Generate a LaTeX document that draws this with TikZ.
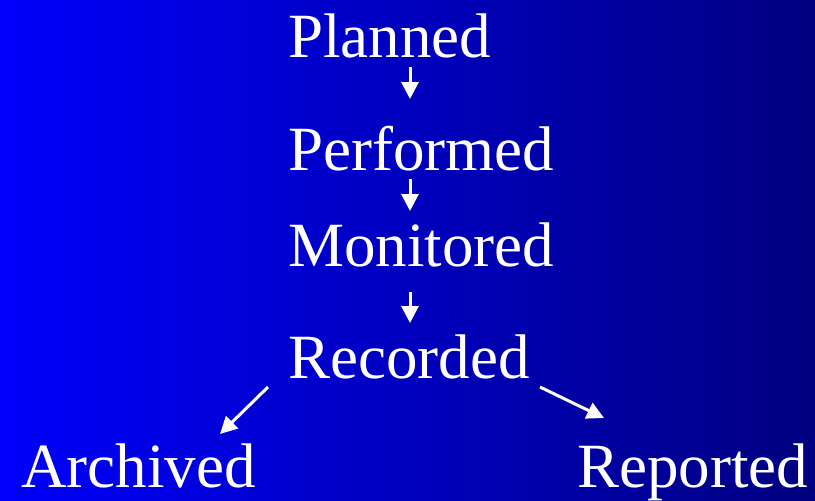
\documentclass[tikz,border=0pt]{standalone}
\usepackage{fontspec}
\setmainfont{Liberation Serif}
\usetikzlibrary{arrows.meta}
\definecolor{bgleft}{RGB}{0,0,252}
\definecolor{bgright}{RGB}{0,0,128}
\tikzset{
  word/.style={anchor=base west, inner sep=0pt, text=white, font=\fontsize{63}{75}\selectfont},
  flow/.style={draw=white, line width=3pt, -{Triangle[length=17pt,width=17pt]}},
}
\begin{document}
\begin{tikzpicture}[x=1pt,y=-1pt]
\shade[left color=bgleft, right color=bgright] (0,0) rectangle (815,501);
\useasboundingbox (0,0) rectangle (815,501);
\node[word] (planned) at (288,57) {Planned};
\node[word] (performed) at (288,170) {Performed};
\node[word] (monitored) at (288,266) {Monitored};
\node[word] (recorded) at (288,378) {Recorded};
\node[word] (archived) at (21,487) {Archived};
\node[word] (reported) at (577,487) {Reported};
\coordinate (a1s) at (410,67);  \coordinate (a1e) at (410,99);
\coordinate (a2s) at (410,179); \coordinate (a2e) at (410,211);
\coordinate (a3s) at (410,292); \coordinate (a3e) at (410,323);
\coordinate (a4s) at (268,387); \coordinate (a4e) at (220,434);
\coordinate (a5s) at (540,387); \coordinate (a5e) at (604,418);
\draw[flow] (a1s) -- (a1e);
\draw[flow] (a2s) -- (a2e);
\draw[flow] (a3s) -- (a3e);
\draw[flow] (a4s) -- (a4e);
\draw[flow] (a5s) -- (a5e);
\end{tikzpicture}
\end{document}
